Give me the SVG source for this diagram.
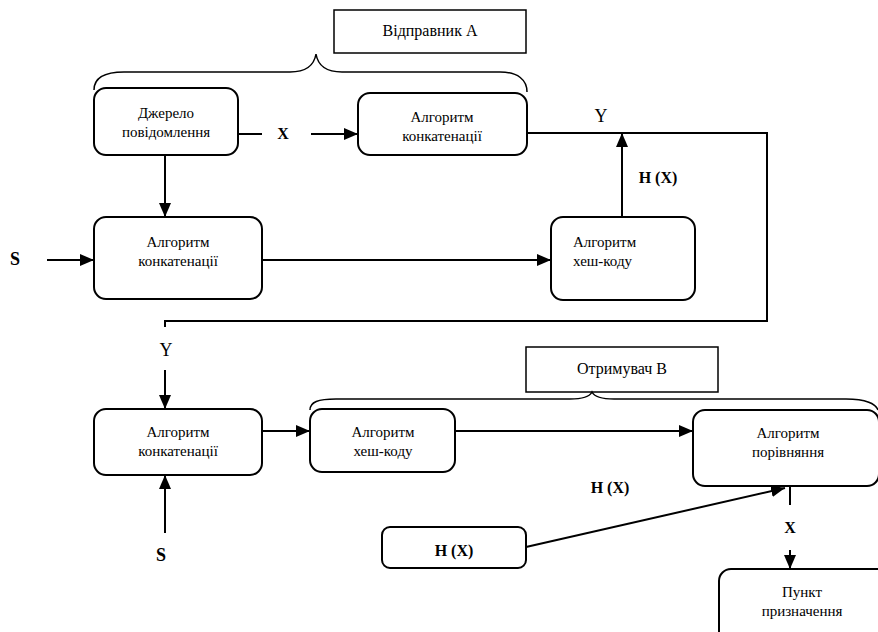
<svg xmlns="http://www.w3.org/2000/svg" width="878" height="632" viewBox="0 0 878 632">
<defs>
<marker id="ah" viewBox="0 0 14 12" refX="14" refY="6" markerWidth="14" markerHeight="12" markerUnits="userSpaceOnUse" orient="auto">
<path d="M0,0 L14,6 L0,12 z" fill="#000"/>
</marker>
<style>
.box{fill:#fff;stroke:#000;stroke-width:2}
.lbl{fill:#fff;stroke:#000;stroke-width:1.5}
.br{fill:none;stroke:#000;stroke-width:1.5}
.ln{fill:none;stroke:#000;stroke-width:2}
.ar{fill:none;stroke:#000;stroke-width:2;marker-end:url(#ah)}
text{font-family:'Liberation Serif','DejaVu Serif',serif;font-size:15px;fill:#000}
.c{text-anchor:middle}
.t{font-size:16px}
.b{font-weight:bold;font-size:16px}
.big{font-size:18px}
</style>
</defs>
<rect width="878" height="632" fill="#fff"/>

<g id="connectors">
<path class="ln" d="M238,134 H262"/>
<path class="ar" d="M311,134 H358"/>
<path class="ar" d="M165,155 V217"/>
<path class="ar" d="M47,260 H94"/>
<path class="ar" d="M262,260 H551"/>
<path class="ar" d="M622,217 V133"/>
<path class="ln" d="M527,133 H767 V321 H165 V327"/>
<path class="ar" d="M165,370 V409"/>
<path class="ar" d="M165,533 V475"/>
<path class="ar" d="M262,431 H310"/>
<path class="ar" d="M455,431 H693"/>
<path class="ar" d="M526,547 L785,488"/>
<path class="ln" d="M790,486 V505"/>
<path class="ar" d="M790,550 V569"/>
<text x="283" y="139" class="c b">X</text>
<text x="601" y="122" class="c big">Y</text>
<text x="658" y="183" class="c b">H (X)</text>
<text x="15" y="265" class="c b big">S</text>
<text x="166" y="356" class="c big">Y</text>
<text x="161" y="561" class="c b big">S</text>
<text x="610" y="493" class="c b">H (X)</text>
<text x="790" y="533" class="c b">X</text>
</g>

<g id="sender">
<rect class="lbl" x="334" y="10" width="192" height="43"/>
<text x="430" y="36" class="c t">Відправник А</text>
<path class="br" d="M94,90 C94,78 104,72 124,72 H290 C306,72 314,66 316,54 C318,66 326,72 342,72 H500 C518,72 527,80 527,92"/>
</g>

<g id="source">
<rect class="box" x="94" y="88" width="144" height="67" rx="12"/>
<text x="166" y="118" class="c">Джерело</text>
<text x="166" y="137" class="c">повідомлення</text>
</g>

<g id="concat1">
<rect class="box" x="358" y="93" width="169" height="62" rx="12"/>
<text x="442" y="122" class="c">Алгоритм</text>
<text x="442" y="141" class="c">конкатенації</text>
</g>

<g id="concat2">
<rect class="box" x="94" y="217" width="168" height="82" rx="12"/>
<text x="178" y="247" class="c">Алгоритм</text>
<text x="178" y="266" class="c">конкатенації</text>
</g>

<g id="hash1">
<rect class="box" x="551" y="217" width="144" height="83" rx="12"/>
<text x="573" y="247">Алгоритм</text>
<text x="573" y="266">хеш-коду</text>
</g>

<g id="receiver">
<rect class="lbl" x="526" y="347" width="192" height="45"/>
<text x="622" y="374" class="c t">Отримувач В</text>
<path class="br" d="M310,410 C310,402 318,399 336,399 H570 C584,399 590,396 592,392 C594,396 600,399 614,399 H846 C866,399 876,404 878,410"/>
</g>

<g id="concat3">
<rect class="box" x="94" y="409" width="168" height="66" rx="12"/>
<text x="178" y="437" class="c">Алгоритм</text>
<text x="178" y="456" class="c">конкатенації</text>
</g>

<g id="hash2">
<rect class="box" x="310" y="409" width="145" height="63" rx="12"/>
<text x="383" y="437" class="c">Алгоритм</text>
<text x="383" y="456" class="c">хеш-коду</text>
</g>

<g id="compare">
<rect class="box" x="693" y="410" width="186" height="76" rx="12"/>
<text x="788" y="438" class="c">Алгоритм</text>
<text x="788" y="457" class="c">порівняння</text>
</g>

<g id="hx">
<rect class="box" x="382" y="527" width="144" height="41" rx="8"/>
<text x="454" y="556" class="c b">H (X)</text>
</g>

<g id="dest">
<rect class="box" x="719" y="569" width="200" height="90" rx="12"/>
<text x="802" y="597" class="c">Пункт</text>
<text x="802" y="616" class="c">призначення</text>
</g>
</svg>
